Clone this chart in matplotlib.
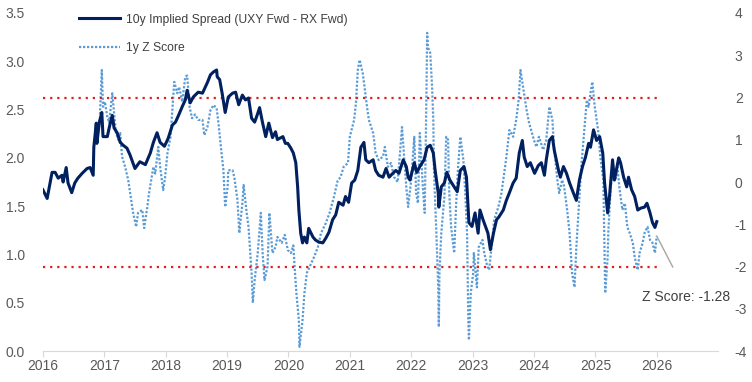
import numpy as np
import matplotlib
matplotlib.use("Agg")
import matplotlib.pyplot as plt

# 10y implied spread (UXY fwd - RX fwd), left axis
spread_years = [2016.00, 2016.07, 2016.15, 2016.20, 2016.25, 2016.31, 2016.33, 2016.38, 2016.41, 2016.47,
                2016.52, 2016.57, 2016.64, 2016.72, 2016.77, 2016.82, 2016.83, 2016.87, 2016.88, 2016.92,
                2016.96, 2016.98, 2017.05, 2017.08, 2017.13, 2017.16, 2017.21, 2017.26, 2017.31, 2017.37,
                2017.42, 2017.50, 2017.58, 2017.67, 2017.75, 2017.80, 2017.86, 2017.91, 2017.98, 2018.04,
                2018.11, 2018.16, 2018.21, 2018.27, 2018.32, 2018.35, 2018.40, 2018.45, 2018.53, 2018.60,
                2018.68, 2018.73, 2018.78, 2018.83, 2018.84, 2018.88, 2018.92, 2018.97, 2019.02, 2019.09,
                2019.14, 2019.19, 2019.25, 2019.30, 2019.35, 2019.40, 2019.45, 2019.50, 2019.53, 2019.58,
                2019.63, 2019.68, 2019.74, 2019.79, 2019.82, 2019.91, 2019.95, 2019.99, 2020.04, 2020.08,
                2020.12, 2020.15, 2020.17, 2020.20, 2020.23, 2020.26, 2020.30, 2020.33, 2020.40, 2020.44,
                2020.49, 2020.56, 2020.61, 2020.66, 2020.72, 2020.77, 2020.82, 2020.89, 2020.93, 2020.98,
                2021.03, 2021.08, 2021.13, 2021.18, 2021.23, 2021.26, 2021.31, 2021.38, 2021.42, 2021.47,
                2021.54, 2021.59, 2021.64, 2021.70, 2021.75, 2021.80, 2021.87, 2021.92, 2021.95, 2021.98,
                2022.05, 2022.09, 2022.14, 2022.21, 2022.26, 2022.31, 2022.36, 2022.39, 2022.44, 2022.45,
                2022.49, 2022.54, 2022.58, 2022.63, 2022.70, 2022.75, 2022.80, 2022.86, 2022.90, 2022.94,
                2022.99, 2023.04, 2023.09, 2023.12, 2023.17, 2023.21, 2023.25, 2023.29, 2023.34, 2023.39,
                2023.43, 2023.50, 2023.55, 2023.60, 2023.66, 2023.71, 2023.76, 2023.81, 2023.84, 2023.89,
                2023.94, 2024.01, 2024.07, 2024.12, 2024.17, 2024.20, 2024.25, 2024.30, 2024.33, 2024.40,
                2024.43, 2024.48, 2024.53, 2024.58, 2024.64, 2024.69, 2024.74, 2024.79, 2024.84, 2024.89,
                2024.92, 2024.97, 2025.02, 2025.07, 2025.12, 2025.15, 2025.20, 2025.23, 2025.28, 2025.31,
                2025.38, 2025.41, 2025.46, 2025.51, 2025.54, 2025.59, 2025.64, 2025.69, 2025.74, 2025.80,
                2025.84, 2025.89, 2025.93, 2025.97, 2026.00]
spread_values = [1.67, 1.58, 1.85, 1.85, 1.79, 1.82, 1.75, 1.90, 1.74, 1.64,
                 1.74, 1.79, 1.84, 1.89, 1.90, 1.82, 2.11, 2.36, 2.15, 2.37,
                 2.47, 2.22, 2.22, 2.31, 2.44, 2.31, 2.26, 2.16, 2.13, 2.10,
                 2.03, 1.89, 1.96, 1.93, 2.05, 2.16, 2.26, 2.16, 2.12, 2.20,
                 2.34, 2.37, 2.44, 2.53, 2.60, 2.70, 2.57, 2.63, 2.68, 2.67,
                 2.78, 2.86, 2.89, 2.91, 2.84, 2.81, 2.67, 2.47, 2.63, 2.67,
                 2.68, 2.55, 2.65, 2.60, 2.62, 2.41, 2.37, 2.46, 2.52, 2.36,
                 2.22, 2.36, 2.21, 2.27, 2.19, 2.22, 2.15, 2.15, 2.10, 2.05,
                 1.95, 1.70, 1.46, 1.22, 1.12, 1.18, 1.12, 1.27, 1.18, 1.15,
                 1.13, 1.12, 1.17, 1.23, 1.36, 1.41, 1.54, 1.51, 1.60, 1.54,
                 1.74, 1.77, 1.87, 2.11, 2.16, 1.98, 1.95, 1.98, 1.87, 1.82,
                 1.80, 1.89, 1.80, 1.84, 1.87, 1.84, 1.98, 1.91, 1.80, 1.77,
                 1.95, 1.85, 1.91, 1.98, 2.11, 2.13, 2.05, 1.87, 1.64, 1.49,
                 1.70, 1.74, 1.85, 1.77, 1.70, 1.65, 1.87, 1.91, 1.80, 1.33,
                 1.29, 1.43, 1.22, 1.46, 1.36, 1.29, 1.22, 1.05, 1.22, 1.36,
                 1.39, 1.46, 1.56, 1.64, 1.74, 1.79, 2.05, 2.18, 2.01, 1.91,
                 1.95, 1.84, 1.92, 1.95, 1.82, 1.98, 2.18, 2.22, 2.08, 1.87,
                 1.80, 1.91, 1.84, 1.74, 1.64, 1.56, 1.77, 1.91, 2.01, 2.15,
                 2.11, 2.29, 2.18, 2.22, 2.05, 1.74, 1.43, 1.60, 1.98, 1.77,
                 2.00, 1.95, 1.80, 1.70, 1.80, 1.67, 1.60, 1.46, 1.48, 1.49,
                 1.53, 1.43, 1.33, 1.28, 1.34]

# 1y Z score, right axis
z_years = [2016.93, 2016.96, 2016.98, 2017.01, 2017.05, 2017.08, 2017.13, 2017.14, 2017.19, 2017.23,
           2017.26, 2017.29, 2017.34, 2017.39, 2017.44, 2017.47, 2017.52, 2017.55, 2017.62, 2017.65,
           2017.70, 2017.73, 2017.80, 2017.83, 2017.88, 2017.91, 2017.96, 2017.99, 2018.03, 2018.08,
           2018.12, 2018.14, 2018.19, 2018.22, 2018.27, 2018.32, 2018.35, 2018.39, 2018.43, 2018.48,
           2018.53, 2018.60, 2018.63, 2018.68, 2018.73, 2018.78, 2018.83, 2018.86, 2018.91, 2018.94,
           2018.97, 2019.01, 2019.02, 2019.09, 2019.12, 2019.17, 2019.20, 2019.25, 2019.27, 2019.32,
           2019.35, 2019.40, 2019.42, 2019.45, 2019.50, 2019.55, 2019.58, 2019.61, 2019.66, 2019.69,
           2019.74, 2019.79, 2019.82, 2019.89, 2019.94, 2019.99, 2020.04, 2020.08, 2020.10, 2020.13,
           2020.17, 2020.18, 2020.23, 2020.26, 2020.30, 2020.36, 2020.41, 2020.48, 2020.53, 2020.61,
           2020.67, 2020.74, 2020.80, 2020.85, 2020.90, 2020.97, 2021.00, 2021.07, 2021.10, 2021.13,
           2021.16, 2021.21, 2021.24, 2021.28, 2021.31, 2021.38, 2021.42, 2021.47, 2021.54, 2021.57,
           2021.62, 2021.67, 2021.72, 2021.78, 2021.85, 2021.88, 2021.92, 2021.95, 2022.00, 2022.05,
           2022.08, 2022.11, 2022.14, 2022.19, 2022.22, 2022.24, 2022.26, 2022.27, 2022.31, 2022.34,
           2022.36, 2022.37, 2022.41, 2022.44, 2022.45, 2022.46, 2022.49, 2022.54, 2022.57, 2022.60,
           2022.62, 2022.65, 2022.70, 2022.73, 2022.76, 2022.80, 2022.85, 2022.88, 2022.91, 2022.93,
           2022.94, 2022.97, 2023.01, 2023.02, 2023.07, 2023.10, 2023.16, 2023.19, 2023.24, 2023.27,
           2023.32, 2023.35, 2023.42, 2023.47, 2023.50, 2023.55, 2023.60, 2023.66, 2023.71, 2023.75,
           2023.78, 2023.83, 2023.88, 2023.92, 2024.00, 2024.04, 2024.08, 2024.15, 2024.20, 2024.25,
           2024.30, 2024.33, 2024.38, 2024.41, 2024.46, 2024.49, 2024.54, 2024.58, 2024.62, 2024.66,
           2024.69, 2024.73, 2024.77, 2024.82, 2024.86, 2024.89, 2024.92, 2024.95, 2024.99, 2025.02,
           2025.05, 2025.08, 2025.13, 2025.15, 2025.16, 2025.20, 2025.21, 2025.25, 2025.29, 2025.33,
           2025.36, 2025.39, 2025.44, 2025.48, 2025.52, 2025.56, 2025.61, 2025.64, 2025.69, 2025.72,
           2025.77, 2025.80, 2025.85, 2025.89, 2025.93, 2025.97, 2026.00]
z_values = [1.60, 2.65, 1.78, 1.90, 1.54, 1.40, 2.10, 1.95, 1.16, 1.00,
            1.16, 0.60, 0.36, 0.05, -0.43, -0.73, -1.06, -0.73, -0.66, -1.09,
            -0.60, -0.26, 0.36, 0.20, 0.83, 0.36, -0.19, 0.10, 0.69, 1.07,
            1.94, 2.37, 2.10, 2.25, 1.90, 2.49, 2.52, 1.78, 1.51, 1.60,
            1.47, 1.47, 1.11, 1.30, 1.70, 1.82, 1.75, 1.40, 0.69, 0.30,
            -0.59, -0.10, 0.28, 0.28, 0.10, -0.43, -1.21, -0.50, -0.07, -0.73,
            -1.06, -2.15, -2.86, -2.32, -1.68, -0.73, -1.68, -2.32, -2.00, -0.73,
            -1.68, -1.54, -1.30, -1.44, -1.25, -1.61, -1.68, -1.50, -2.00, -2.63,
            -3.27, -3.90, -3.27, -2.63, -2.15, -1.96, -1.80, -1.54, -1.21, -0.97,
            -0.73, -0.36, 0.02, 0.12, 0.36, 0.45, 1.07, 1.47, 1.87, 2.65,
            2.89, 2.58, 2.25, 1.78, 1.47, 1.16, 0.69, 0.52, 0.60, 0.83,
            0.36, 0.45, 0.12, 0.00, 1.30, 0.69, -0.12, -0.59, 0.05, 1.07,
            -0.26, -0.50, 1.16, -0.12, -0.73, 1.20, 3.53, 3.20, 3.05, 2.25,
            1.47, 0.30, -1.21, -2.49, -3.43, -2.15, -1.21, -0.36, 1.07, 1.00,
            -0.26, -1.06, -1.68, -0.59, 0.28, 1.07, 0.52, -0.26, -1.21, -3.27,
            -3.74, -2.63, -2.15, -1.68, -2.49, -1.54, -1.37, -1.68, -2.00, -2.08,
            -1.37, -0.90, -0.59, -0.26, 0.05, 0.59, 1.23, 1.07, 1.47, 1.94,
            2.65, 2.18, 1.70, 1.40, 0.99, 0.83, 1.07, 0.76, 1.00, 1.78,
            1.47, 0.76, 0.05, -0.26, 0.05, -0.10, -0.66, -1.21, -2.15, -2.49,
            -1.54, -0.59, 0.36, 1.23, 1.94, 1.78, 2.10, 2.37, 1.78, 1.47,
            1.16, 0.59, 0.05, -1.78, -2.63, -1.78, -1.21, -0.12, 0.36, 0.05,
            0.36, -0.12, -0.66, -0.50, -1.06, -1.21, -1.44, -1.78, -2.08, -1.68,
            -1.44, -1.21, -1.06, -1.37, -1.44, -1.68, -1.28]

year_ticks = list(range(2016, 2027))
left_ticks = [0.0, 0.5, 1.0, 1.5, 2.0, 2.5, 3.0, 3.5]
right_ticks = [-4, -3, -2, -1, 0, 1, 2, 3, 4]
z_bands = [2, -2]
last_z = z_values[-1]

navy = "#002060"
light_blue = "#5B9BD5"
grey_text = "#595959"

plt.rcParams["font.family"] = ["Liberation Sans", "DejaVu Sans"]

fig = plt.figure(figsize=(7.52, 3.82), dpi=100)
ax1 = fig.add_axes([0.057, 0.081, 0.898, 0.885])
ax2 = ax1.twinx()

# z score first (right axis), spread drawn on top
z_line, = ax2.plot(z_years, z_values, color=light_blue, lw=1.6,
                   linestyle=(0, (1, 0.8)), label="1y Z Score")
for b in z_bands:
    ax2.plot([year_ticks[0], year_ticks[-1]], [b, b], color="#E0201B", lw=1.6,
             linestyle=(0, (1, 2.2)))
l1, = ax1.plot(spread_years, spread_values, color=navy, lw=2.2,
               label="10y Implied Spread (UXY Fwd - RX Fwd)")
ax1.set_zorder(ax2.get_zorder() + 1)
ax1.patch.set_visible(False)

ax1.set_xlim(2016, 2027)
ax1.set_ylim(0, 3.5)
ax2.set_ylim(-4, 4)
ax1.set_xticks(year_ticks)
ax1.set_xticklabels([str(y) for y in year_ticks])
ax1.set_yticks(left_ticks)
ax1.set_yticklabels(["%.1f" % v for v in left_ticks])
ax2.set_yticks(right_ticks)
ax2.set_yticklabels([str(v) for v in right_ticks])

for ax in (ax1, ax2):
    for s in ("top", "right", "left"):
        ax.spines[s].set_visible(False)
    ax.spines["bottom"].set_color("#D9D9D9")
ax2.spines["bottom"].set_visible(False)
ax1.tick_params(axis="x", colors="#D9D9D9", labelcolor=grey_text, labelsize=10,
                length=4, direction="out", pad=2)
ax1.tick_params(axis="y", length=0, labelcolor=grey_text, labelsize=10, pad=13)
ax2.tick_params(axis="y", length=0, labelcolor=grey_text, labelsize=10, pad=12)

# callout for latest z score
ax2.plot([z_years[-1], 2026.26], [last_z, -2.01], color="#A6A6A6", lw=1)
ax2.text(2026.47, -2.72, "Z Score: %.2f" % last_z, ha="center", va="center",
         fontsize=10, color="#404040")

ax1.legend([l1, z_line], [l1.get_label(), z_line.get_label()],
           loc="upper left", bbox_to_anchor=(0.037, 1.03), frameon=False,
           fontsize=8.7, labelcolor="#404040", handlelength=3.4,
           labelspacing=1.35, handletextpad=0.55)

fig.savefig("out.png", dpi=100)
